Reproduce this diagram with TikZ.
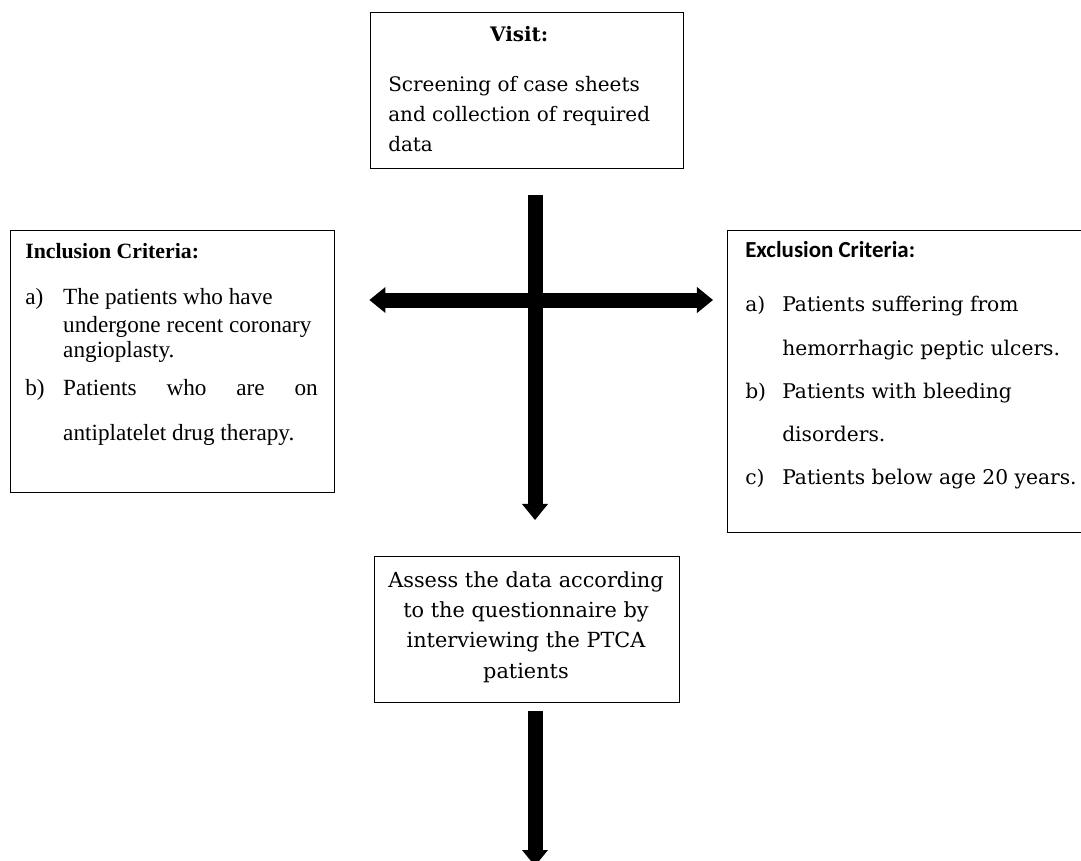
\documentclass[tikz,border=0pt]{standalone}
\usepackage{fontspec}
\setmainfont{DejaVu Serif}
\newfontfamily\timesfont{Liberation Serif}
\newfontfamily\calibfont{Carlito}
\usetikzlibrary{arrows.meta}

\tikzset{
  pane/.style 2 args={draw,line width=1pt,anchor=north west,inner sep=0pt,
    minimum width=#1*0.025cm,minimum height=#2*0.025cm},
  words/.style={anchor=base west,inner sep=0pt},
  fathead/.tip={Triangle[width=0.65cm,length=0.4cm,line width=0pt]},
  fatarrow/.style={line width=0.375cm,-fathead},
  fatboth/.style={line width=0.375cm,fathead-fathead},
}

\begin{document}
\begin{tikzpicture}[x=0.025cm,y=-0.025cm]
  \useasboundingbox (0,0) rectangle (1081,861);
  % boxes
  \node[pane={313}{156}] (visit) at (370,12) {};
  \node[pane={324}{262}] (incl) at (10,230) {};
  \node[pane={363}{302}] (excl) at (727,230) {};
  \node[pane={305}{146}] (assess) at (374,556) {};
  % texts
  \node[words] (visittxt) at (388,42) {\fontsize{14.2}{21.3}\selectfont
    \begin{tabular}[t]{@{}l@{}}
    \multicolumn{1}{@{}c@{}}{\textbf{Visit:}}\\[14pt]
    Screening of case sheets\\
    and collection of required\\
    data
    \end{tabular}};
  \node[words] (incltxt) at (25,258) {\timesfont\fontsize{16.5}{17.5}\selectfont
    \begin{tabular}[t]{@{}p{27pt}@{}l@{}}
    \multicolumn{2}{@{}l@{}}{\fontsize{15.5}{15}\selectfont\textbf{Inclusion Criteria:}}\\[15.9pt]
    a) & The patients who have\\[2.4pt]
       & undergone recent coronary\\
       & angioplasty.\\[9.5pt]
    b) & \makebox[181pt][s]{Patients\hfill who\hfill are\hfill on}\\[14.5pt]
       & antiplatelet drug therapy.
    \end{tabular}};
  \node[words] (excltxt) at (745,257) {\fontsize{14.4}{30.6}\selectfont
    \begin{tabular}[t]{@{}p{26.3pt}@{}l@{}}
    \multicolumn{2}{@{}l@{}}{\calibfont\fontsize{16.3}{15}\selectfont\textbf{Exclusion Criteria:}}\\[8.5pt]
    a) & Patients suffering from\\
       & hemorrhagic peptic ulcers.\\
    b) & Patients with bleeding\\
       & disorders.\\
    c) & Patients below age 20 years.
    \end{tabular}};
  \node[anchor=base,inner sep=0pt] (assesstxt) at (526,587) {\fontsize{14.8}{21.6}\selectfont
    \begin{tabular}[t]{@{}c@{}}
    Assess the data according\\
    to the questionnaire by\\
    interviewing the PTCA\\
    patients
    \end{tabular}};
  % arrows
  \coordinate (hub) at (535,300);
  \coordinate (sink) at (535,866);
  \draw[fatarrow,shorten <=0.65cm,shorten >=0.9cm] (hub |- visit.south) -- (hub |- assess.north);
  \draw[fatboth,shorten <=0.85cm,shorten >=0.35cm] (hub -| incl.east) -- (hub -| excl.west);
  \draw[fatarrow,shorten <=0.2cm] (hub |- assess.south) -- (sink);
\end{tikzpicture}
\end{document}
